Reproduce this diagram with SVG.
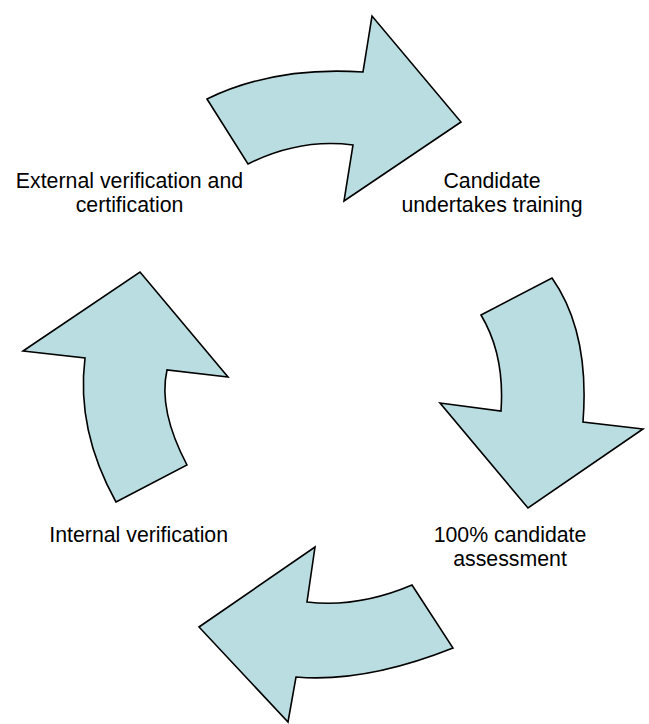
<svg xmlns="http://www.w3.org/2000/svg" width="649" height="724" viewBox="0 0 649 724">
<style>
.arrow{fill:#b9dde0;stroke:#000;stroke-width:1.6;stroke-linejoin:miter}
.lbl{font-family:"Liberation Sans",Arial,sans-serif;font-size:21.3px;fill:#000;text-anchor:middle}
</style>
<rect width="649" height="724" fill="#fff"/>
<g id="connectors">
<path id="arrow-top" class="arrow" d="M207,99 Q275,66 363,72 L372,16 L461,122 L344,201 L353,145 Q300,138 248,164 Z"/>
<path id="arrow-right" class="arrow" d="M481,315 L552,278 Q590,332 583,422 L643,429 L528,508 L440,403 L501,411 Q505,355 481,315 Z"/>
<path id="arrow-bottom" class="arrow" d="M412,585 L453,648 Q365,683 296,677 L288,722 L199,627 L315,547 L307,602 Q358,608 412,585 Z"/>
<path id="arrow-left" class="arrow" d="M116,502 L187,465 Q158,410 167,370 L228,377 L140,272 L23,351 L85,358 Q76,430 116,502 Z"/>
</g>
<g id="node-external">
<text class="lbl" x="129.5" y="187.5">External verification and</text>
<text class="lbl" x="129.5" y="211.5">certification</text>
</g>
<g id="node-candidate">
<text class="lbl" x="492" y="187.5">Candidate</text>
<text class="lbl" x="492" y="211.5">undertakes training</text>
</g>
<g id="node-assessment">
<text class="lbl" x="510" y="542">100% candidate</text>
<text class="lbl" x="510" y="566">assessment</text>
</g>
<g id="node-internal">
<text class="lbl" x="138.7" y="542">Internal verification</text>
</g>
</svg>
